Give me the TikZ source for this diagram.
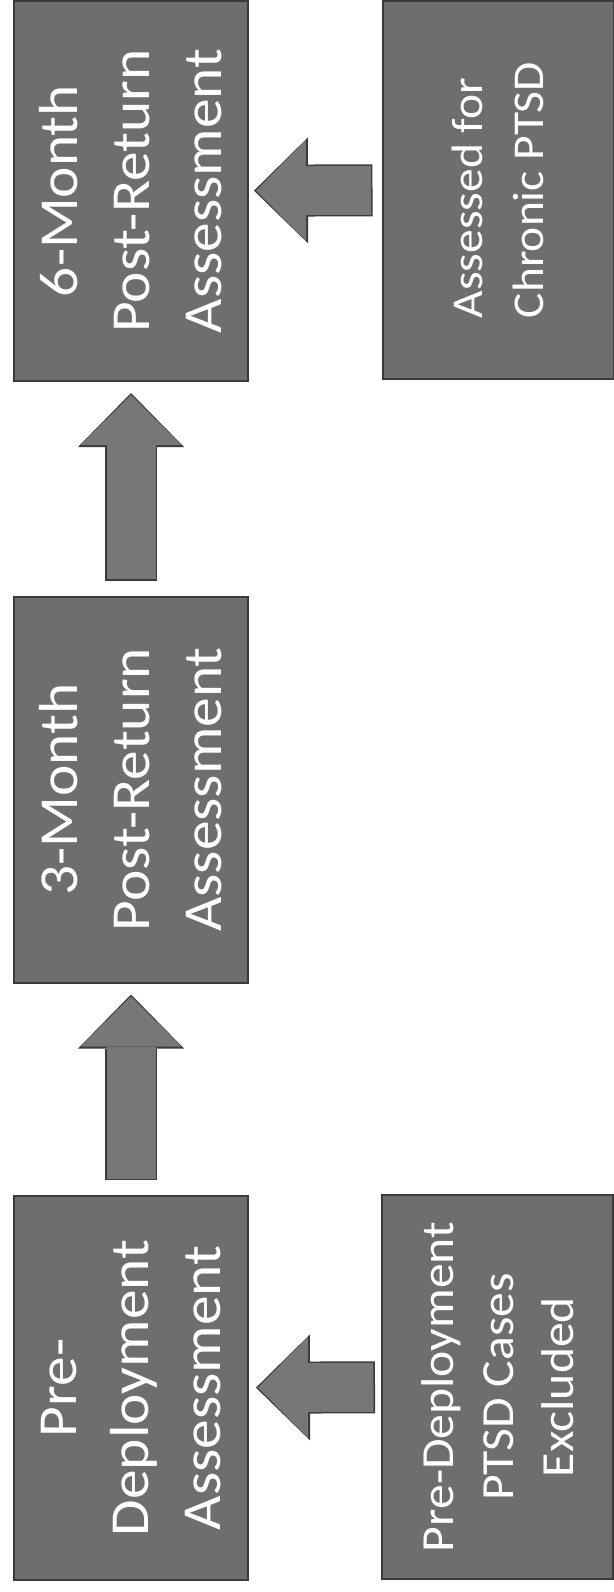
\documentclass[tikz,border=0pt]{standalone}
\usepackage{fontspec}
\setmainfont{Carlito}[FakeStretch=1.08]
\usepackage{xcolor}
\usepackage{tikz}
\usetikzlibrary{arrows.meta}

\definecolor{boxgray}{HTML}{6E6E6E}
\definecolor{edgegray}{HTML}{3A3A3A}
\definecolor{arrowgray}{HTML}{777777}

\begin{document}
\begin{tikzpicture}[
        x=1pt, y=-1pt,
        base/.style={align=center, draw=edgegray, line width=2pt, fill=boxgray, text=white, rotate=90, inner sep=0pt},
        stage/.style={base, minimum height=234pt, font=\fontsize{55}{72}\selectfont},
        side/.style={base, minimum height=231pt},
        fatarrow/.style 2 args={draw=arrowgray, line width=49pt, shorten <={#1+1.5pt}, shorten >={#2+2pt},
            -{Triangle[length=50pt, width=101pt, line width=0pt]},
            preaction={draw=edgegray, line width=52pt, shorten <=#1, shorten >=#2,
            -{Triangle[length=54pt, width=106pt, line width=0pt]}}}
    ]
        \useasboundingbox (0,0) rectangle (613,1592);

        \node[stage, minimum width=380pt] (sixmonth) at (131,191) {6-Month\\Post-Return\\Assessment};
        \node[stage, minimum width=386pt] (threemonth) at (131,789.5) {3-Month\\Post-Return\\Assessment};
        \node[stage, minimum width=384pt] (predeploy) at (131,1388) {Pre-\\Deployment\\Assessment};

        \node[side, align=left, minimum width=378pt, font=\fontsize{44}{61}\selectfont] (chronic) at (498,190) {Assessed for\\Chronic PTSD};
        \node[side, minimum width=384pt, font=\fontsize{46}{60}\selectfont] (excluded) at (497.5,1387) {Pre-Deployment\\PTSD Cases\\Excluded};

        \draw[fatarrow={15pt}{11pt}] (threemonth) -- (sixmonth);
        \draw[fatarrow={15pt}{11pt}] (predeploy) -- (threemonth);

        \draw[fatarrow={9pt}{5pt}] (chronic) -- (sixmonth);
        \draw[fatarrow={6pt}{7pt}] (excluded) -- (predeploy);

    \end{tikzpicture}
\end{document}
